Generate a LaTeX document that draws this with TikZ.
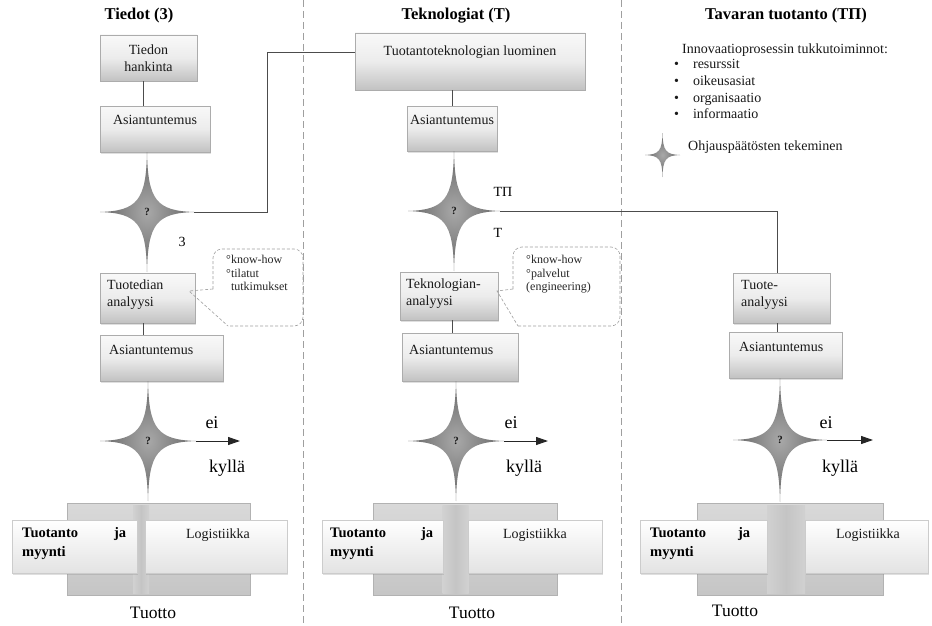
\documentclass[tikz,border=0pt]{standalone}
\usepackage{fontspec}
\setmainfont{Liberation Serif}
\usetikzlibrary{arrows.meta,shadows}
\tikzset{
  pics/fourstar/.style 2 args={code={
    \path[starfill] (0,-#2) .. controls (0.02*#1,-0.2*#2) and (0.2*#1,-0.02*#2) .. (#1,0)
      .. controls (0.2*#1,0.02*#2) and (0.02*#1,0.2*#2) .. (0,#2)
      .. controls (-0.02*#1,0.2*#2) and (-0.2*#1,0.02*#2) .. (-#1,0)
      .. controls (-0.2*#1,-0.02*#2) and (-0.02*#1,-0.2*#2) .. (0,-#2) -- cycle;
    \coordinate (-r) at (#1,0);
    \coordinate (-t) at (0,-#2);
    \coordinate (-b) at (0,#2);
  }}
}
\begin{document}
\begin{tikzpicture}[x=1pt,y=-1pt,
  starfill/.style={inner color=black!34, outer color=black!60, draw=none},
  txt/.style={inner sep=0pt, font=\fontsize{14}{16.7}\selectfont, text=black!90},
  ttl/.style={inner sep=0pt, font=\fontsize{16.5}{19}\selectfont\bfseries},
  lbl/.style={inner sep=0pt, font=\fontsize{14}{16}\selectfont},
  calltxt/.style={inner sep=0pt, font=\fontsize{12}{13.5}\selectfont, text=black!85},
  bigtxt/.style={inner sep=0pt, font=\fontsize{18}{20}\selectfont},
  boldtxt/.style={inner sep=0pt, font=\fontsize{14.5}{19}\selectfont\bfseries},
  tuot/.style={inner sep=0pt, font=\fontsize{17.5}{20}\selectfont},
  qm/.style={inner sep=0pt, font=\fontsize{11}{12}\selectfont\bfseries, text=black!90},
  boxst/.style={draw=gray!65, line width=0.6pt, top color=gray!5, bottom color=gray!48, middle color=gray!15, inner sep=0pt, drop shadow={opacity=0.25,shadow xshift=1pt,shadow yshift=-1.5pt}},
  backst/.style={draw=gray!60, line width=0.6pt, top color=gray!30, bottom color=gray!45, inner sep=0pt},
  stripst/.style={left color=gray!36, right color=gray!36, middle color=gray!46, inner sep=0pt},
  frontst/.style={draw=gray!40, line width=0.5pt, top color=white, bottom color=gray!22, inner sep=0pt, drop shadow={opacity=0.25,shadow xshift=1pt,shadow yshift=-1.5pt}},
  calloutst/.style={draw=gray!75, dash pattern=on 3pt off 2pt, line width=0.6pt},
  conn/.style={draw=black!70, line width=1pt},
  arr/.style={draw=black!85, line width=1pt, -{Triangle[length=12pt,width=8pt]}},
  divider/.style={draw=gray!75, dash pattern=on 7pt off 4pt, line width=0.8pt}
]
\useasboundingbox (0,0) rectangle (932,626);
\path[fill=white] (0,0) rectangle (932,626);

% dividers
\draw[divider] (303,0) -- (303,626);
\draw[divider] (621,0) -- (621,626);

% titles
\node[ttl] (h1) at (139,16) {Tiedot (3)};
\node[ttl] (h2) at (456,16) {Teknologiat (T)};
\node[ttl] (h3) at (786,16) {Tavaran tuotanto (TΠ)};

% ---------- column 1 ----------
\coordinate (v1) at (143,0);
\node[boxst, minimum width=97pt, minimum height=46pt] (b1) at (148.5,58) {};
\node[txt, align=center] (b1t) at (148.5,58) {Tiedon\\hankinta};
\node[boxst, minimum width=110pt, minimum height=46pt] (a1) at (155,129) {};
\node[txt] (a1t) at (155,120) {Asiantuntemus};
\draw[conn] (v1 |- b1.south) -- (v1 |- a1.north);

\pic (s1) at (147,212) {fourstar={47}{60}};
\node[qm] (q1) at (147,212) {?};
\coordinate (k1) at (267,212);
\coordinate (k2) at (267,53);
\coordinate (j1) at (355,53);
\draw[conn] (s1-r) -- (k1) -- (k2) -- (j1);
\node[lbl] (z1) at (182,242) {3};

\node[boxst, minimum width=95pt, minimum height=50pt] (t1) at (147.5,298) {};
\node[txt, anchor=west, align=left] (t1t) at (107,295) {Tuotedian\\analyysi};

\draw[calloutst, rounded corners=9pt] (213,289) -- (213,249) -- (303,249) -- (303,326) -- (228,326);
\draw[calloutst] (213,289) -- (189,291) -- (228,326);
\node[calltxt, anchor=north west, align=left] (c1t) at (226,255) {°know-how\\°tilatut\\\phantom{°}tutkimukset};

\node[boxst, minimum width=123pt, minimum height=46pt] (a2) at (161.5,358) {};
\node[txt, anchor=west] (a2t) at (109,350) {Asiantuntemus};
\draw[conn] (v1 |- t1.south) -- (v1 |- a2.north);

\pic (s2) at (148,441) {fourstar={48}{60}};
\node[qm] (q2) at (148,441) {?};
\coordinate (e1) at (240,441);
\draw[arr] (s2-r) -- (e1);
\node[bigtxt] (ei1) at (212,423) {ei};
\node[bigtxt] (ky1) at (227,468) {kyllä};

\node[backst, minimum width=183pt, minimum height=92pt] (kb1) at (158.5,549) {};
\node[stripst, minimum width=16pt, minimum height=88pt] (g1) at (141,549) {};
\node[frontst, minimum width=125pt, minimum height=53pt] (p1) at (74.5,546.5) {};
\node[boldtxt, anchor=north west, text width=104pt, align=left] (p1t) at (22,527) {Tuotanto\hfill ja\\myynti};
\node[frontst, minimum width=142pt, minimum height=53pt] (l1) at (216,546.5) {};
\node[txt] (l1t) at (218,535) {Logistiikka};
\node[tuot] (r1) at (153,613) {Tuotto};

% ---------- column 2 ----------
\coordinate (v2) at (452,0);
\node[boxst, minimum width=230pt, minimum height=57pt] (tt) at (470,61.5) {};
\node[txt] (ttt) at (470,52) {Tuotantoteknologian luominen};
\node[boxst, minimum width=90pt, minimum height=45pt] (a3) at (452,128.5) {};
\node[txt] (a3t) at (452,120) {Asiantuntemus};
\draw[conn] (a3.north |- tt.south) -- (a3.north);

\pic (s3) at (454,211) {fourstar={46}{60}};
\node[qm] (q3) at (454,211) {?};
\node[lbl] (tp) at (503,192) {TΠ};
\node[lbl] (tl) at (498,233) {T};

\node[boxst, minimum width=98pt, minimum height=48pt] (t2) at (449,296) {};
\node[txt, anchor=west, align=left] (t2t) at (406,294) {Teknologian-\\analyysi};

\draw[calloutst, rounded corners=9pt] (513,289) -- (513,247) -- (620,247) -- (620,326) -- (518,326);
\draw[calloutst] (513,289) -- (497,291) -- (518,326);
\node[calltxt, anchor=north west, align=left] (c2t) at (526,255) {°know-how\\°palvelut\\(engineering)};

\node[boxst, minimum width=116pt, minimum height=48pt] (a4) at (460,357) {};
\node[txt, anchor=west] (a4t) at (409,350) {Asiantuntemus};
\draw[conn] (v2 |- t2.south) -- (v2 |- a4.north);

\pic (s4) at (456,441) {fourstar={48}{60}};
\node[qm] (q4) at (456,441) {?};
\coordinate (e2) at (548,441);
\draw[arr] (s4-r) -- (e2);
\node[bigtxt] (ei2) at (511,423) {ei};
\node[bigtxt] (ky2) at (524,468) {kyllä};

\node[backst, minimum width=184pt, minimum height=92pt] (kb2) at (465,549) {};
\node[stripst, minimum width=26pt, minimum height=88pt] (g2) at (455.5,549) {};
\node[frontst, minimum width=121pt, minimum height=53pt] (p2) at (382.5,546.5) {};
\node[boldtxt, anchor=north west, text width=103pt, align=left] (p2t) at (330,527) {Tuotanto\hfill ja\\myynti};
\node[frontst, minimum width=134pt, minimum height=53pt] (l2) at (535,546.5) {};
\node[txt] (l2t) at (535,535) {Logistiikka};
\node[tuot] (r2) at (472,613) {Tuotto};

% ---------- column 3 ----------
\node[txt, anchor=west] (lg) at (682,50) {Innovaatioprosessin tukkutoiminnot:};
\node[txt, anchor=north west] (lst) at (674,57) {\begin{tabular}{@{}l@{\hspace{14pt}}l@{}}•&resurssit\\•&oikeusasiat\\•&organisaatio\\•&informaatio\end{tabular}};
\pic (ls) at (662.5,155) {fourstar={17.5}{22}};
\node[txt, anchor=west] (lgs) at (688,147) {Ohjauspäätösten tekeminen};

\coordinate (k3) at (777,211);
\node[boxst, minimum width=97pt, minimum height=50pt] (t3) at (781.5,298) {};
\node[txt, anchor=west, align=left] (t3t) at (741,295) {Tuote-\\analyysi};
\draw[conn] (s3-r) -- (k3) -- (k3 |- t3.north);

\node[boxst, minimum width=113pt, minimum height=46pt] (a5) at (785.5,355) {};
\node[txt, anchor=west] (a5t) at (739,347) {Asiantuntemus};
\draw[conn] (k3 |- t3.south) -- (k3 |- a5.north);

\pic (s5) at (780,440) {fourstar={47}{62}};
\node[qm] (q5) at (780,440) {?};
\coordinate (e3) at (873,440);
\draw[arr] (s5-r) -- (e3);
\node[bigtxt] (ei3) at (826,423) {ei};
\node[bigtxt] (ky3) at (840,468) {kyllä};

\node[backst, minimum width=186pt, minimum height=92pt] (kb3) at (790,549) {};
\node[stripst, minimum width=38pt, minimum height=88pt] (g3) at (786,549) {};
\node[frontst, minimum width=127pt, minimum height=53pt] (p3) at (703.5,546.5) {};
\node[boldtxt, anchor=north west, text width=100pt, align=left] (p3t) at (650,527) {Tuotanto\hfill ja\\myynti};
\node[frontst, minimum width=123pt, minimum height=53pt] (l3) at (866.5,546.5) {};
\node[txt] (l3t) at (868,535) {Logistiikka};
\node[tuot] (r3) at (735,611) {Tuotto};
\end{tikzpicture}
\end{document}
